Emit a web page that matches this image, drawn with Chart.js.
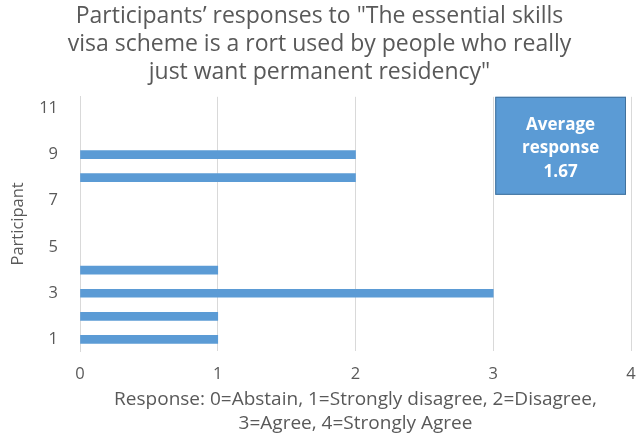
<!DOCTYPE html>
<html>
<head>
<meta charset="utf-8">
<script src="https://cdn.jsdelivr.net/npm/chart.js@4"></script>
<style>
  html, body { margin: 0; padding: 0; background: #fff; }
  #wrap { width: 636px; height: 439px; position: relative; }
</style>
</head>
<body>
<div id="wrap"><canvas id="chart" width="636" height="439"></canvas></div>
<script>
// Participant numbers and their responses (0 = abstain)
const participants = [1, 2, 3, 4, 5, 6, 7, 8, 9, 10, 11];
const responses = [1, 1, 3, 1, 0, 0, 0, 2, 2, 0, 0];
const participantTicks = [1, 3, 5, 7, 9, 11];
const responseTicks = [0, 1, 2, 3, 4];

const titleLines = [
  'Participants\u2019 responses to "The essential skills',
  'visa scheme is a rort used by people who really',
  'just want permanent residency"'
];
const xTitleLines = [
  'Response: 0=Abstain, 1=Strongly disagree, 2=Disagree,',
  '3=Agree, 4=Strongly Agree'
];

// Average over the participants who gave an answer
const answered = responses.filter(v => v > 0);
const averageResponse = answered.reduce((a, b) => a + b, 0) / answered.length;

const FONT = "'Open Sans', 'DejaVu Sans', sans-serif";
const TEXT = '#595959';
const GRID = '#d9d9d9';
const BLUE = '#5b9bd5';

const averageBox = {
  id: 'averageBox',
  afterDraw(chart) {
    const { ctx, chartArea, scales } = chart;
    const left = scales.x.getPixelForValue(3) + 2;
    const right = chartArea.right - 5;
    const top = chartArea.top;
    const bottom = top + 98;
    ctx.save();
    ctx.fillStyle = BLUE;
    ctx.fillRect(left, top, right - left, bottom - top);
    ctx.strokeStyle = '#41719c';
    ctx.lineWidth = 1;
    ctx.strokeRect(left + 0.5, top + 0.5, right - left - 1, bottom - top - 1);
    ctx.fillStyle = '#ffffff';
    ctx.font = "bold 17px " + FONT;
    ctx.textAlign = 'center';
    ctx.textBaseline = 'middle';
    const cx = (left + right) / 2;
    const lines = ['Average', 'response', averageResponse.toFixed(2)];
    lines.forEach((t, i) => ctx.fillText(t, cx, top + 28 + i * 23.5));
    ctx.restore();
  }
};

new Chart(document.getElementById('chart'), {
  type: 'bar',
  data: {
    datasets: [{
      data: responses.map((v, i) => ({ x: v, y: participants[i] })),
      backgroundColor: c => (c.raw && c.raw.x > 0 ? BLUE : 'rgba(0,0,0,0)'),
      borderWidth: 0,
      barThickness: 8
    }]
  },
  plugins: [averageBox],
  options: {
    indexAxis: 'y',
    responsive: false,
    animation: false,
    layout: { padding: { left: 8, right: 5, top: 0, bottom: 3 } },
    plugins: {
      legend: { display: false },
      tooltip: { enabled: false },
      title: {
        display: true,
        text: titleLines,
        color: TEXT,
        font: { family: FONT, size: 23, weight: 'normal', lineHeight: 1.2 },
        padding: { top: 3, bottom: 11 }
      }
    },
    scales: {
      x: {
        type: 'linear',
        min: 0,
        max: 4,
        afterBuildTicks(scale) { scale.ticks = responseTicks.map(v => ({ value: v })); },
        afterFit(scale) {
          scale.height = 85;
          scale.paddingLeft = 0;
          scale.paddingRight = 0;
        },
        grid: { color: GRID, drawTicks: false },
        border: { display: false },
        ticks: { color: TEXT, font: { family: FONT, size: 16.5 }, padding: 13 },
        title: {
          display: true,
          text: xTitleLines,
          color: TEXT,
          font: { family: FONT, size: 19, lineHeight: 1.26 },
          padding: { top: 2, bottom: 0 }
        }
      },
      y: {
        type: 'linear',
        offset: false,
        min: 0.5,
        max: 11.5,
        afterBuildTicks(scale) { scale.ticks = participantTicks.map(v => ({ value: v })); },
        afterFit(scale) { scale.width = 72; },
        grid: { display: false, offset: false },
        border: { display: true, color: GRID },
        ticks: { color: TEXT, font: { family: FONT, size: 16.5 }, padding: 14 },
        title: {
          display: true,
          text: 'Participant',
          color: TEXT,
          font: { family: FONT, size: 16.5 },
          padding: { top: 0, bottom: 0 }
        }
      }
    }
  }
});
</script>
</body>
</html>
